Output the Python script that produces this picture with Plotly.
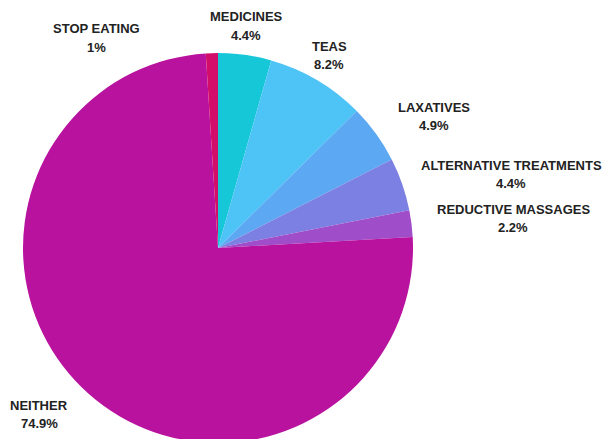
import plotly.graph_objects as go

# ---- data ----
categories = ["MEDICINES", "TEAS", "LAXATIVES", "ALTERNATIVE TREATMENTS",
              "REDUCTIVE MASSAGES", "NEITHER", "STOP EATING"]
shares = [4.4, 8.2, 4.9, 4.4, 2.2, 74.9, 1.0]
share_labels = ["4.4%", "8.2%", "4.9%", "4.4%", "2.2%", "74.9%", "1%"]

# ---- style ----
colors = ["#16C7D8", "#4EC3F6", "#5CA8F3", "#7B80E2", "#A04DCA", "#B8129E", "#D20E6A"]
W, H = 610, 439
OFF = 8  # page body margin offset
# label centre positions in screen pixels (x, y of first line)
label_pos = [(246, 17), (329, 46), (434, 107), (511, 165), (513, 209), (39, 405), (96, 29)]
# pie bounding box in screen pixels
pie_left, pie_right, pie_top, pie_bottom = 23, 413, 53, 443

fig = go.Figure(go.Pie(
    labels=categories,
    values=shares,
    sort=False,
    direction="clockwise",
    rotation=0,
    marker=dict(colors=colors, line=dict(width=0)),
    textinfo="none",
    hoverinfo="label+percent",
    domain=dict(x=[(pie_left - OFF) / W, (pie_right - OFF) / W],
                y=[(H - (pie_bottom - OFF)) / H, (H - (pie_top - OFF)) / H]),
))

font = dict(family="Liberation Sans, Arial", size=13, color="#222222")
annotations = []
for name, pct, (px, py) in zip(categories, share_labels, label_pos):
    for text, yy in ((name, py), (pct, py + 18.5)):
        annotations.append(dict(
            x=(px - OFF) / W, y=1 - (yy - OFF) / H, xref="paper", yref="paper",
            xanchor="center", yanchor="middle", showarrow=False,
            text=f"<b>{text}</b>", font=font,
        ))

fig.update_layout(
    width=W, height=H,
    margin=dict(l=0, r=0, t=0, b=0),
    showlegend=False,
    paper_bgcolor="white",
    plot_bgcolor="white",
    annotations=annotations,
)

fig.write_html("out.html")
